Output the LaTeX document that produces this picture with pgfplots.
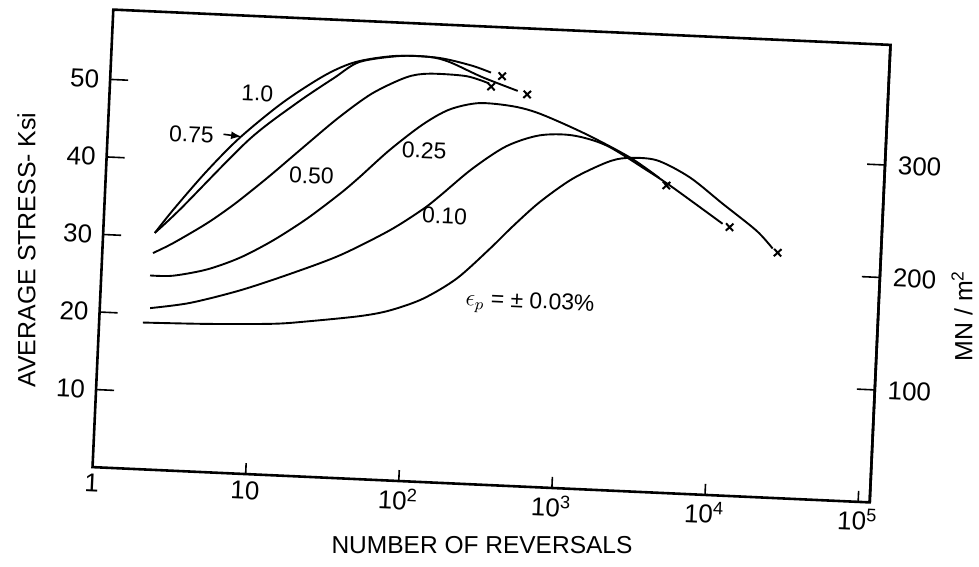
\documentclass[border=0pt]{standalone}
\usepackage{fontspec}
\setmainfont{Liberation Sans}
\usepackage{pgfplots}
\pgfplotsset{compat=1.18}

\begin{document}
\begin{tikzpicture}
\useasboundingbox (-51.25bp,-41bp) rectangle (438.25bp,242.5bp);

% the scanned original sits about 2.6 degrees off square
\begin{scope}[transform canvas={rotate around={-2.6:(194.5bp,114.5bp)}}]
\begin{axis}[
  scale only axis, width=389bp, height=229bp,
  xmode=log, xmin=1, xmax=1.19e5, ymin=0, ymax=59,
  axis line style={line width=1.3pt},
  tick style={line width=0.8pt, black},
  tick align=inside,
  /pgf/number format/assume math mode=true,
  tick label style={font=\fontsize{13}{15}\selectfont},
  xtick={1,10,100,1000,10000,100000},
  xticklabels={1,10,10\textsuperscript{2},10\textsuperscript{3},10\textsuperscript{4},10\textsuperscript{5}},
  xminorticks=false,
  ytick={10,20,30,40,50},
  xtick pos=bottom, ytick pos=left,
  xtick style={/pgfplots/major tick length=5.5bp},
  ytick style={/pgfplots/major tick length=9bp},
  yticklabel style={xshift=-2bp},
  clip=false,
]
% 1.0
\addplot[line width=0.95pt, black, smooth] coordinates {
  (2.17,30.5) (2.82,33.6) (4.47,38.6) (7.24,43.2) (13.5,48.0) (25.1,51.8)
  (39.8,53.7) (72.4,54.7) (135,54.7) (224,53.9) (302,53.1)
};
% 0.75
\addplot[line width=0.95pt, black, smooth] coordinates {
  (2.17,30.5) (3.16,33.8) (8.32,43.0) (16.6,48.0) (28.8,51.5) (41.7,53.7)
  (75.9,54.7) (120,54.75) (162,54.2) (263,52.5) (457,50.9)
};
% 0.50
\addplot[line width=0.95pt, black, smooth] coordinates {
  (2.14,27.9) (2.88,29.3) (4.68,32.0) (6.76,34.4) (9.12,36.6) (12.3,38.9)
  (20.0,42.8) (31.6,46.4) (51.3,49.7) (85.1,52.0) (120,52.6) (209,52.5) (295,51.7)
};
% 0.25
\addplot[line width=0.95pt, black, smooth] coordinates {
  (2.08,25.0) (2.93,25.1) (4.86,26.1) (7.9,27.8) (12.8,30.2) (21,33.2)
  (33.9,36.6) (44.7,38.8) (69.2,42.5) (112,46.0) (166,48.1) (257,49.1)
  (427,48.9) (646,48.1) (1288,45.8) (2570,43.0) (4074,40.5)
};
% 0.10
\addplot[line width=0.95pt, black, smooth] coordinates {
  (2.13,20.8) (3.86,21.7) (8.09,23.6) (16.9,26.0) (35.4,28.7) (73.5,32.2)
  (119,35.1) (152,36.9) (243,40.6) (399,43.7) (652,45.3) (1069,45.5)
  (1794,44.4) (3377,41.4) (4977,39.4) (10820,35.0)
};
% 0.03
\addplot[line width=0.95pt, black, smooth] coordinates {
  (1.93,18.9) (5.06,19.1) (13.6,19.5) (22.6,20.0) (50,21.0) (77.8,21.9)
  (127,23.6) (208,26.4) (334,30.4) (463,33.4) (684,36.7) (1102,39.9)
  (1816,42.2) (2443,42.9) (3837,42.8) (6383,40.8) (10650,37.6) (18100,34.3)
  (23330,32.1)
};
% failure points
\addplot[only marks, mark=x, mark size=2.6bp, line width=1pt, black] coordinates {
  (358,52.7) (528,50.5) (306,51.3) (4540,39.6) (12050,34.6) (25230,31.6)
};

\node[font=\fontsize{11.5}{13}\selectfont] at (axis cs:9.2,49.1) {1.0};
\node[font=\fontsize{11.5}{13}\selectfont] at (axis cs:3.52,43.4) {0.75};
\draw[-latex, line width=0.8pt] (axis cs:5.69,43.6) -- (axis cs:7.46,43.4);
\node[font=\fontsize{11.5}{13}\selectfont] at (axis cs:21.9,38.8) {0.50};
\node[font=\fontsize{11.5}{13}\selectfont] at (axis cs:117,42.7) {0.25};
\node[font=\fontsize{11.5}{13}\selectfont] at (axis cs:166,34.4) {0.10};
\node[font=\fontsize{11.5}{13}\selectfont] at (axis cs:634,23.6) {$\epsilon_p$ = ± 0.03\%};
\end{axis}

% right-hand scale in MN/m^2
\begin{axis}[
  scale only axis, width=389bp, height=229bp,
  xmode=log, xmin=1, xmax=1.19e5, ymin=0, ymax=406.8,
  axis x line=none, axis y line*=right,
  axis line style={line width=1.3pt},
  tick style={line width=0.8pt, black},
  tick align=inside,
  /pgf/number format/assume math mode=true,
  tick label style={font=\fontsize{13}{15}\selectfont},
  ytick={100,200,300},
  ytick style={/pgfplots/major tick length=9bp},
  yticklabel style={xshift=3bp},
]
\addplot[draw=none] coordinates {(1,0)};
\end{axis}
\end{scope}

\node[font=\fontsize{12.3}{14}\selectfont] at (189.75bp,-30bp) {NUMBER OF REVERSALS};
\node[rotate=90, font=\fontsize{12.5}{14}\selectfont] at (-38bp,117.5bp) {AVERAGE STRESS- Ksi};
\node[rotate=90, font=\fontsize{12.5}{14}\selectfont] at (429.75bp,84.5bp) {MN / m\textsuperscript{2}};
\end{tikzpicture}
\end{document}
